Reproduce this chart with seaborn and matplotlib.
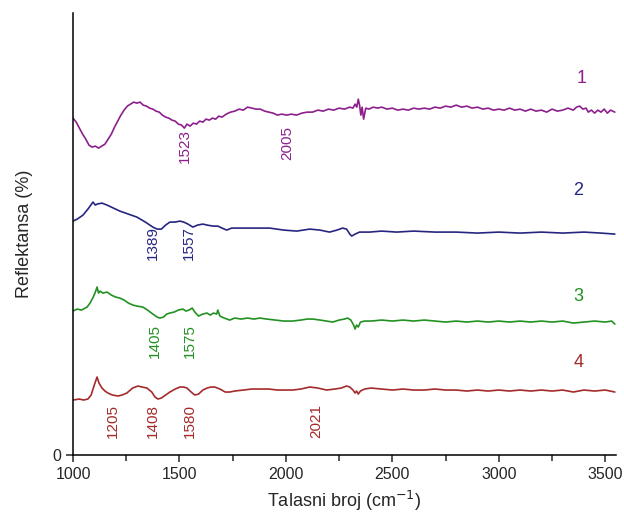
import numpy as np
import pandas as pd
import matplotlib
matplotlib.use("Agg")
import matplotlib.pyplot as plt
import seaborn as sns

# spectra (offset, arbitrary units)
x1 = [1000,1015,1030,1045,1060,1075,1090,1105,1120,1135,1150,1165,1180,1195,1210,1225,1240,1255,1270,1285,
      1300,1315,1330,1345,1360,1375,1390,1405,1420,1435,1450,1465,1480,1495,1510,1523,1535,1550,1565,1580,
      1595,1610,1625,1640,1655,1670,1685,1700,1720,1740,1760,1780,1800,1820,1840,1860,1880,1900,1920,1940,
      1960,1980,2005,2025,2050,2075,2100,2125,2150,2175,2200,2225,2250,2275,2300,2315,2325,2333,2340,2346,
      2352,2358,2365,2375,2390,2410,2430,2450,2475,2500,2525,2550,2575,2600,2625,2650,2675,2700,2725,2750,
      2775,2800,2825,2850,2875,2900,2925,2950,2975,3000,3025,3050,3075,3100,3125,3150,3175,3200,3225,3250,
      3275,3300,3325,3350,3365,3380,3395,3410,3420,3435,3450,3465,3480,3495,3510,3525,3545]
y1 = [337,333,327,321,316,310,308,309,307,309,311,316,321,328,334,340,345,349,351,353,
      352,353,350,349,347,346,344,343,340,338,337,335,334,331,330,327,331,329,332,331,
      334,333,336,335,337,336,339,338,341,343,344,346,345,348,347,346,346,344,343,342,
      340,341,340,341,340,342,343,343,345,344,346,345,347,346,348,347,351,348,356,350,
      340,348,336,347,346,348,347,348,346,347,345,346,345,347,346,347,346,348,347,349,
      348,350,348,349,347,348,346,347,345,346,345,347,345,346,344,346,344,345,343,346,
      344,345,347,345,348,349,346,347,343,345,342,345,343,346,342,345,343]

x2 = [1000,1020,1047,1070,1094,1105,1113,1136,1160,1190,1220,1260,1300,1340,1375,1395,1415,1435,1455,1480,
      1502,1520,1540,1563,1585,1610,1630,1657,1680,1700,1722,1745,1769,1850,1924,1990,2051,2112,2160,2205,
      2240,2266,2285,2300,2309,2325,2346,2393,2450,2520,2600,2700,2800,2900,3000,3100,3200,3300,3400,3480,3545]
y2 = [234,236,240,246,253,250,251,252,250,247,244,241,238,233,228,226,226,230,233,233,
      234,233,231,228,230,231,230,229,229,227,225,227,227,227,227,225,224,226,225,223,
      225,227,226,221,219,221,223,223,224,223,224,223,223,222,223,222,223,222,223,222,221]

x3 = [1000,1020,1040,1066,1080,1095,1105,1113,1120,1127,1140,1160,1180,1200,1220,1240,1260,1281,1300,1328,
      1350,1375,1395,1408,1425,1440,1455,1475,1495,1516,1530,1545,1560,1572,1590,1610,1629,1645,1660,1675,
      1680,1690,1710,1736,1760,1790,1820,1850,1877,1910,1950,1990,2032,2070,2100,2126,2160,2190,2220,2250,
      2275,2290,2305,2318,2325,2332,2340,2350,2370,2400,2450,2500,2550,2600,2650,2700,2750,2800,2850,2900,
      2950,3000,3050,3100,3150,3200,3250,3300,3350,3400,3450,3500,3530,3545]
y3 = [144,146,145,148,152,158,163,168,162,164,162,163,160,158,157,155,152,150,149,148,
      145,141,138,137,138,141,142,143,145,146,144,145,147,143,139,141,142,140,142,141,
      145,139,137,135,137,136,137,136,137,136,135,134,134,135,136,136,135,134,133,135,
      136,137,135,130,126,130,128,133,134,134,135,134,135,134,135,134,133,134,133,134,
      133,134,133,134,133,134,133,134,132,133,134,133,134,131]

x4 = [1000,1030,1050,1070,1085,1100,1113,1122,1136,1150,1164,1185,1211,1230,1253,1280,1305,1325,1347,1370,
      1385,1399,1415,1435,1455,1480,1502,1520,1535,1555,1572,1590,1610,1630,1648,1666,1690,1715,1736,1760,
      1800,1840,1877,1920,1960,2000,2032,2070,2112,2150,2191,2230,2260,2285,2300,2315,2325,2332,2340,2350,
      2370,2400,2450,2500,2550,2600,2650,2700,2750,2800,2850,2900,2950,3000,3050,3100,3150,3200,3250,3300,
      3350,3400,3450,3500,3545]
y4 = [55,56,55,56,60,70,78,72,67,64,62,60,59,60,62,67,69,68,67,63,
      58,56,57,60,63,66,68,68,67,63,60,61,65,67,68,68,66,63,63,64,
      65,66,66,66,65,65,65,66,68,67,65,66,67,69,68,65,62,64,61,64,
      66,67,66,65,66,65,65,66,65,65,64,65,64,65,64,65,64,65,64,65,
      63,65,64,65,63]

names = ["1", "2", "3", "4"]
colors = ["#8c1f8c", "#262680", "#229122", "#a52a2a"]

# peak labels: text, x, y, curve index
peak_txt = ["1523", "2005", "1389", "1557", "1405", "1575", "1205", "1408", "1580", "2021"]
peak_x = [1525, 2004, 1375, 1545, 1385, 1549, 1188, 1375, 1549, 2144]
peak_y = [309, 312, 212, 212, 114, 114, 34, 34, 34, 34]
peak_c = [0, 0, 1, 1, 2, 2, 3, 3, 3, 3]

num_x = [3387, 3373, 3373, 3373]
num_y = [377, 265, 159, 93]

frames = []
for nm, xs, ys in zip(names, [x1, x2, x3, x4], [y1, y2, y3, y4]):
    frames.append(pd.DataFrame({"x": xs, "y": ys, "s": nm}))
df = pd.concat(frames, ignore_index=True)

sns.set_style("ticks")
plt.rcParams['font.family'] = ['Liberation Sans', 'DejaVu Sans']

fig = plt.figure(figsize=(6.24, 5.18), dpi=100)
ax = fig.add_axes([0.117, 0.1216, 0.870, 0.853])

sns.lineplot(data=df, x="x", y="y", hue="s", palette=colors, linewidth=1.2,
             legend=False, ax=ax, sort=False)

for t, px, py, c in zip(peak_txt, peak_x, peak_y, peak_c):
    ax.text(px, py, t, rotation=90, ha="center", va="center", fontsize=11, color=colors[c])
for nm, px, py, c in zip(names, num_x, num_y, colors):
    ax.text(px, py, nm, ha="center", va="center", fontsize=13, color=c)

ax.set_xlim(1000, 3550)
ax.set_ylim(0, 442)
ax.set_xticks([1000, 1500, 2000, 2500, 3000, 3500])
ax.set_xticks([1250, 1750, 2250, 2750, 3250], minor=True)
ax.set_yticks([0])
ax.tick_params(axis="both", which="both", direction="out", length=5, width=1.1, labelsize=11.5)
ax.tick_params(axis="x", which="minor", length=4)
for s in ["left", "bottom"]:
    ax.spines[s].set_linewidth(1.1)
    ax.spines[s].set_color("black")
sns.despine(ax=ax)

ax.set_xlabel(r"Talasni broj (cm$^{-1}$)", fontsize=13, labelpad=5)
ax.set_ylabel("Reflektansa (%)", fontsize=13, labelpad=14)

plt.savefig("out.png", dpi=100)
